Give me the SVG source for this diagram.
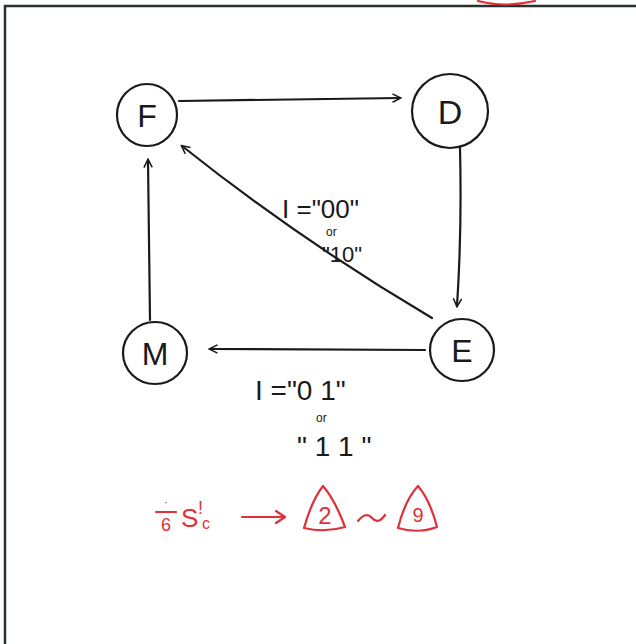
<svg xmlns="http://www.w3.org/2000/svg" width="636" height="644" viewBox="0 0 636 644">
<style>
.ink{fill:none;stroke:#1a1a1a;stroke-width:2.2;stroke-linecap:round;stroke-linejoin:round}
.red{fill:none;stroke:#e0303a;stroke-width:2.2;stroke-linecap:round;stroke-linejoin:round}
.lbl{font-family:"Liberation Sans",Arial,sans-serif;fill:#1a1a1a}
.rlbl{font-family:"Liberation Sans",Arial,sans-serif;fill:#e0303a}
</style>
<defs>
<marker id="ah" viewBox="0 0 12 12" refX="10" refY="6" markerWidth="10" markerHeight="10" orient="auto" markerUnits="userSpaceOnUse">
<path d="M1,1 L11,6 L1,11" fill="none" stroke="#1a1a1a" stroke-width="1.8"/>
</marker>
</defs>
<rect width="636" height="644" fill="#fff"/>
<g id="frame">
<path d="M5,644 L5,6 L636,6" fill="none" stroke="#2a302e" stroke-width="2.5"/>
<path d="M478,1 Q505,8 535,1" class="red"/>
</g>
<g id="connectors">
<path d="M179,101 L400,98" class="ink" marker-end="url(#ah)"/>
<path d="M460,148 Q462,230 457,306" class="ink" marker-end="url(#ah)"/>
<path d="M432,318 Q300,240 182,146" class="ink" marker-end="url(#ah)"/>
<path d="M425,350 L210,349" class="ink" marker-end="url(#ah)"/>
<path d="M150,320 L148,160" class="ink" marker-end="url(#ah)"/>
</g>
<g id="node-F">
<ellipse cx="147" cy="115" rx="30" ry="31" class="ink"/>
<text x="147" y="127" text-anchor="middle" class="lbl" font-size="32">F</text>
</g>
<g id="node-D">
<ellipse cx="450" cy="111" rx="38" ry="37" class="ink"/>
<text x="450" y="124" text-anchor="middle" class="lbl" font-size="34">D</text>
</g>
<g id="node-E">
<ellipse cx="462" cy="350" rx="32" ry="31" class="ink"/>
<text x="462" y="362" text-anchor="middle" class="lbl" font-size="32">E</text>
</g>
<g id="node-M">
<ellipse cx="155" cy="353" rx="32" ry="31" class="ink"/>
<text x="155" y="365" text-anchor="middle" class="lbl" font-size="32">M</text>
</g>
<g id="label-EF">
<text x="282" y="218" class="lbl" font-size="26">I ="00"</text>
<text x="326" y="236" class="lbl" font-size="12">or</text>
<text x="322" y="262" class="lbl" font-size="22">"10"</text>
</g>
<g id="label-EM">
<text x="255" y="400" class="lbl" font-size="28">I ="0 1"</text>
<text x="316" y="422" class="lbl" font-size="12">or</text>
<text x="297" y="456" class="lbl" font-size="28">" 1 1 "</text>
</g>
<g id="note">
<path d="M156,512 L176,512" class="red"/>
<text x="164" y="506" class="rlbl" font-size="12">·</text>
<text x="161" y="531" class="rlbl" font-size="18">6</text>
<text x="181" y="527" class="rlbl" font-size="26">S</text>
<text x="198" y="514" class="rlbl" font-size="18">!</text>
<text x="202" y="529" class="rlbl" font-size="16">c</text>
<path d="M242,517 L284,517" class="red"/>
<path d="M276,511 L285,517 L276,523" class="red"/>
<path d="M323,486 Q312,500 304,528 Q325,533 345,527 Q335,500 323,486 Z" class="red"/>
<text x="325" y="524" text-anchor="middle" class="rlbl" font-size="24">2</text>
<path d="M358,521 Q366,511 372,518 Q378,525 385,515" class="red"/>
<path d="M418,486 Q405,500 398,528 Q418,534 437,527 Q430,500 418,486 Z" class="red"/>
<text x="418" y="522" text-anchor="middle" class="rlbl" font-size="20">9</text>
</g>
</svg>
